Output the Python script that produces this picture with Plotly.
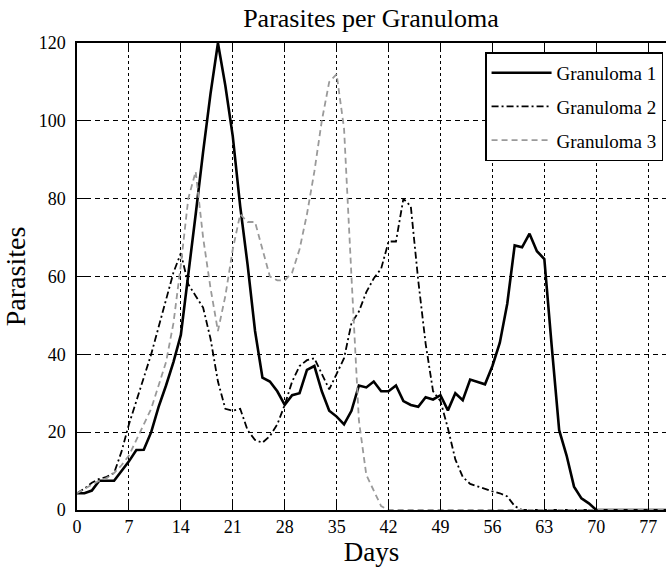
import plotly.graph_objects as go

days = list(range(0, 85))

granuloma_1 = [4.3, 4.3, 5, 7.5, 7.5, 7.5, 10, 12.5, 15.4, 15.5,
               20, 26.5, 32, 38, 45, 60, 76, 92, 107, 120,
               109, 96, 78, 63, 46, 34, 33, 30.5, 27, 29.5,
               30, 36, 37, 30.5, 25.5, 24, 22, 25.5, 32, 31.5,
               33, 30.5, 30.5, 32, 28, 27, 26.5, 29, 28.4, 29.5,
               25.6, 30, 28.2, 33.5, 33, 32.3, 37, 43, 53, 68,
               67.5, 71, 66.5, 64.5, 42, 20.5, 14, 6, 3, 1.7,
               0] + [0] * 14

granuloma_2 = [4.3, 5.5, 7, 8, 8.5, 9.5, 15, 22, 28, 34,
               40, 47, 54, 61, 66, 58, 55, 52, 44, 33,
               26, 25.5, 26, 20.5, 18, 17.3, 19, 22, 27, 33,
               37, 38.5, 39, 35, 31, 35, 39, 48, 51, 56,
               59.5, 62, 69, 69, 80, 78, 59, 42.7, 30.5, 28,
               21, 13, 8.5, 6.7, 6, 5.3, 4.8, 4.3, 3.5, 1,
               0] + [0] * 24

granuloma_3 = [4.3, 5.5, 6.5, 7.5, 8.2, 9.5, 11.5, 14, 18, 22,
               26, 32, 38, 48, 63, 80, 87, 70, 57, 46,
               55, 67, 76, 74, 74, 67, 60, 59, 59, 61,
               67, 76, 87, 100, 110, 112, 98, 60, 23, 9,
               5, 1, 0] + [0] * 42

x_ticks = [0, 7, 14, 21, 28, 35, 42, 49, 56, 63, 70, 77]
y_ticks = [0, 20, 40, 60, 80, 100, 120]

SERIF = "Times New Roman, Liberation Serif, DejaVu Serif, serif"

fig = go.Figure()
fig.add_trace(go.Scatter(x=days, y=granuloma_1, mode="lines", name="Granuloma 1",
                         legendgroup="g1",
                         line=dict(color="black", width=2.6)))
fig.add_trace(go.Scatter(x=days, y=granuloma_2, mode="lines", name="Granuloma 2",
                         legendgroup="g2",
                         line=dict(color="black", width=1.8, dash="7px,3px,2px,3px")))
fig.add_trace(go.Scatter(x=days, y=granuloma_3, mode="lines", name="Granuloma 3",
                         legendgroup="g3",
                         line=dict(color="#9a9a9a", width=1.8, dash="6px,4px")))

fig.update_layout(
    width=666, height=573,
    margin=dict(l=77, r=0, t=43, b=63),
    paper_bgcolor="white", plot_bgcolor="white",
    font=dict(family=SERIF, color="black", size=17),
    title=dict(text="Parasites per Granuloma", x=0.557, xanchor="center",
               y=0.968, yanchor="middle", font=dict(size=26, family=SERIF)),
    showlegend=True,
    legend=dict(x=0.995, xanchor="right", y=0.98, yanchor="top",
                bgcolor="white", bordercolor="black", borderwidth=1.5,
                font=dict(size=19, family=SERIF), tracegroupgap=6,
                itemwidth=60),
)

fig.update_xaxes(
    range=[0, 79.4], tickvals=x_ticks, ticktext=[str(v) for v in x_ticks],
    showgrid=True, gridcolor="black", gridwidth=1.4, griddash="3px,3px",
    showline=True, linecolor="black", linewidth=1.5, mirror="ticks",
    ticks="inside", ticklen=9, tickwidth=1.3, tickcolor="black",
    zeroline=False, tickfont=dict(size=18, family=SERIF),
    title=dict(text="Days", font=dict(size=27, family=SERIF), standoff=6),
)
fig.update_yaxes(
    range=[0, 120], tickvals=y_ticks, ticktext=[str(v) for v in y_ticks],
    showgrid=True, gridcolor="black", gridwidth=1.4, griddash="5px,4px",
    showline=True, linecolor="black", linewidth=1.5, mirror=False,
    ticks="inside", ticklen=9, tickwidth=1.3, tickcolor="black",
    zeroline=False, ticklabelstandoff=6, tickfont=dict(size=18, family=SERIF),
    title=dict(text="Parasites", font=dict(size=28, family=SERIF), standoff=8),
)

fig.write_html("out.html")
